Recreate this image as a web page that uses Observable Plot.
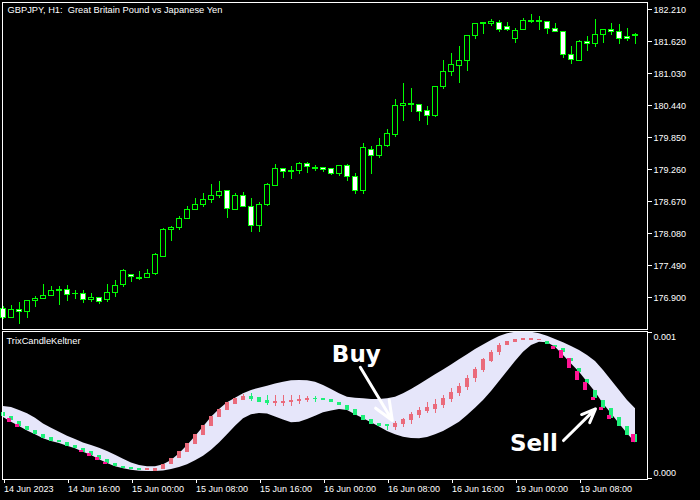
<!DOCTYPE html>
<html><head><meta charset="utf-8">
<script src="https://cdn.jsdelivr.net/npm/d3@7"></script>
<script src="https://cdn.jsdelivr.net/npm/@observablehq/plot@0.6"></script>
<style>
html,body{margin:0;padding:0;background:#000;}
#chart{width:700px;height:500px;overflow:hidden;background:#000;}
#chart svg{display:block;}
</style></head><body><div id="chart"></div>
<script>
const title = "GBPJPY, H1:  Great Britain Pound vs Japanese Yen";
const indicatorName = "TrixCandleKeltner";

// GBPJPY H1 candles (bar index 0..79)
const priceOpen = [176.697,176.531,176.679,176.642,176.837,176.874,176.929,177.022,177.047,176.974,176.974,176.856,176.900,176.856,176.985,177.127,177.324,177.269,177.261,177.330,177.661,178.146,178.178,178.344,178.515,178.620,178.700,178.768,178.860,178.528,178.786,178.583,178.215,178.602,178.958,179.266,179.219,179.234,179.376,179.290,179.302,179.266,179.179,179.321,179.136,178.865,179.634,179.511,179.690,179.898,180.433,180.451,180.458,180.335,180.248,180.783,181.059,181.177,181.262,181.731,181.944,181.952,181.970,181.896,181.668,181.834,181.981,181.981,181.981,181.860,181.804,181.380,181.270,181.620,181.576,181.742,181.841,181.804,181.712,181.731];
const priceHigh = [176.740,176.758,176.813,176.850,176.924,177.145,177.103,177.108,177.121,177.029,177.035,176.979,176.906,177.145,177.213,177.422,177.330,177.379,177.416,177.717,178.183,178.215,178.399,178.583,178.731,178.823,178.989,179.044,178.878,178.823,178.841,178.731,178.657,179.007,179.358,179.266,179.321,179.395,179.395,179.339,179.302,179.284,179.339,179.358,179.186,179.745,179.690,179.837,180.003,180.556,180.851,180.759,180.464,180.422,180.790,181.275,181.404,181.533,181.731,181.952,181.976,182.031,182.013,181.967,181.865,182.044,182.123,182.081,181.989,181.952,181.815,181.533,181.644,181.712,182.026,181.841,181.952,181.933,181.860,181.768];
const priceLow = [176.500,176.518,176.408,176.518,176.727,176.874,176.924,176.758,176.837,176.874,176.800,176.813,176.782,176.819,176.906,177.095,177.182,177.219,177.261,177.311,177.643,177.938,178.141,178.344,178.515,178.565,178.639,178.731,178.362,178.510,178.570,178.104,178.104,178.583,178.958,179.105,179.081,179.179,179.197,179.229,179.216,179.160,179.142,179.050,178.810,178.810,179.179,179.474,179.671,179.861,180.156,180.322,180.156,180.082,180.230,180.746,180.986,180.857,181.078,181.668,181.760,181.908,181.791,181.810,181.589,181.834,181.963,181.834,181.760,181.804,181.318,181.207,181.251,181.447,181.520,181.594,181.742,181.576,181.631,181.565];
const priceClose = [176.531,176.684,176.642,176.845,176.882,176.937,177.029,177.053,176.948,176.966,176.856,176.900,176.819,176.992,177.121,177.403,177.280,177.250,177.348,177.680,178.159,178.191,178.362,178.528,178.620,178.712,178.768,178.854,178.534,178.786,178.570,178.220,178.620,178.971,179.266,179.216,179.238,179.358,179.308,179.280,179.253,179.179,179.321,179.124,178.865,179.653,179.511,179.702,179.911,180.445,180.482,180.473,180.322,180.256,180.790,181.067,181.201,181.275,181.731,181.952,181.963,181.981,181.834,181.841,181.823,182.007,182.007,181.998,181.852,181.804,181.373,181.281,181.620,181.576,181.749,181.841,181.797,181.675,181.668,181.749];
const priceTicks = [176.90,177.49,178.08,178.67,179.26,179.85,180.44,181.03,181.62,182.21];

// Time axis (bar index of each label)
const timeTickBars = [0,8,16,24,32,40,48,56,64,72];
const timeTickLabels = ["14 Jun 2023","14 Jun 16:00","15 Jun 00:00","15 Jun 08:00","15 Jun 16:00","16 Jun 00:00","16 Jun 08:00","16 Jun 16:00","19 Jun 00:00","19 Jun 08:00"];

// Indicator values in units of 1e-6
const bandUpper = [493,486,466,443,413,374,345,317,290,267,244,226,208,185,160,132,107,89,80,80,94,123,169,226,288,352,420,473,518,550,580,603,619,632,648,660,669,671,669,660,637,610,580,557,550,546,541,541,546,557,580,610,642,676,710,744,778,813,847,883,915,945,973,991,1002,1005,1002,991,975,952,929,904,877,842,801,740,671,603,534,477];
const bandLower = [418,386,356,326,299,272,253,240,221,203,180,157,128,103,80,66,57,50,48,48,52,62,75,94,121,153,194,244,299,358,409,436,445,441,422,400,381,386,404,427,450,463,473,466,436,409,381,352,322,299,283,274,272,281,299,322,352,386,432,482,534,596,664,733,801,865,911,934,929,899,842,785,728,660,591,511,443,374,306,244];
const trixOpen = [450,425,388,354,326,301,278,260,247,226,208,185,157,130,103,84,73,68,57,48,62,94,135,180,235,294,358,418,468,509,536,562,552,532,516,516,523,530,536,550,546,539,521,500,473,432,402,377,368,352,370,400,432,459,473,500,541,582,623,683,742,801,861,911,929,943,947,943,941,911,888,824,751,678,603,534,477,420,356,304];
const trixClose = [427,395,356,326,299,272,256,244,221,203,180,157,128,103,80,71,62,57,66,71,94,135,185,240,304,363,427,473,518,546,559,543,518,514,525,530,534,541,550,541,532,518,498,468,432,400,372,358,356,379,402,436,466,488,509,550,589,632,687,749,813,865,911,938,952,957,957,952,920,895,865,801,728,648,546,477,413,358,294,244];
const trixHigh = [450,425,388,354,326,301,278,260,247,226,208,185,157,130,103,84,73,68,66,71,94,135,185,240,304,363,427,473,518,546,578,582,552,568,568,568,568,568,564,559,546,539,521,500,473,432,402,377,372,390,409,450,488,518,541,568,614,648,705,760,824,877,922,938,952,957,957,952,941,911,888,824,751,678,603,534,477,420,356,304];
const trixLow = [427,395,356,326,299,272,256,244,221,203,180,157,128,103,80,71,62,57,57,48,62,94,135,180,235,294,358,418,468,509,532,527,518,500,491,491,495,509,518,523,532,518,498,468,432,400,372,358,331,329,352,372,409,445,443,482,523,564,600,660,728,792,842,911,929,943,947,943,920,895,865,801,728,648,546,477,413,358,294,244];
const overlapBars = [1,2,10,11,12,13,69,70,71,72,73,74,75,76,79];
const overlapTop = [409,368,194,169,142,112,906,874,820,733,655,557,488,432,304];
const overlapBottom = [386,352,176,153,123,98,884,824,751,671,603,534,466,404,244];

// Signal annotations
const signalText = ["Buy","Sell"];
const signalTextBar = [44.1,66.3];
const signalTextValue = [850,238];
const arrowFromBar = [44.6,70.0];
const arrowFromValue = [762,260];
const arrowToBar = [48.6,74.0];
const arrowToValue = [397,477];

const LIME = "#00ff00", SALMON = "#ea6a7b", GREEN = "#1ef07a", MAGENTA = "#ff1493", BAND = "#e6e6fa";

const candles = priceOpen.map((o, i) => ({i, o, h: priceHigh[i], l: priceLow[i], c: priceClose[i], up: priceClose[i] >= o}));
const trix = trixOpen.map((o, i) => ({i, o, c: trixClose[i], h: trixHigh[i], l: trixLow[i], col: trixClose[i] >= o ? SALMON : GREEN}));
const band = bandUpper.map((u, i) => ({i, hi: u, lo: bandLower[i]}));
const overlap = overlapBars.map((b, k) => ({i: b, top: overlapTop[k], bottom: overlapBottom[k]}));
const signals = signalText.map((t, k) => ({t, x: signalTextBar[k], y: signalTextValue[k]}));
const arrows = arrowFromBar.map((b, k) => ({x1: b, y1: arrowFromValue[k], x2: arrowToBar[k], y2: arrowToValue[k]}));
const timeTicks = timeTickBars.map((b, k) => ({b, label: timeTickLabels[k]}));

const baseStyle = {background: "#000", color: "#fff", fontFamily: "'Liberation Sans', Arial, sans-serif", fontSize: "9px"};

const upper = Plot.plot({
  width: 700, height: 330,
  marginLeft: 2, marginRight: 53, marginTop: 2, marginBottom: 1,
  style: baseStyle,
  color: {type: "identity"},
  x: {domain: [0, 79], range: [3, 635], axis: null},
  y: {domain: [176.9, 182.21], range: [297.3, 9.3], label: null},
  marks: [
    Plot.ruleX(candles, {x: "i", y1: "l", y2: "h", stroke: LIME, shapeRendering: "crispEdges"}),
    Plot.rect(candles, {x1: d => d.i - 0.27, x2: d => d.i + 0.27, y1: "o", y2: "c", fill: d => d.up ? "#000" : "#fff", stroke: LIME, shapeRendering: "crispEdges"}),
    Plot.frame({stroke: "#fff", shapeRendering: "crispEdges"}),
    Plot.axisY(priceTicks, {anchor: "right", tickSize: 4, tickPadding: 2, tickFormat: d => d.toFixed(3), fontSize: 9, label: null, shapeRendering: "crispEdges"}),
    Plot.text([title], {frameAnchor: "top-left", dx: 5, dy: 4, lineAnchor: "top", fill: "#fff", fontSize: 9.3})
  ]
});

const lower = Plot.plot({
  width: 700, height: 170,
  marginLeft: 2, marginRight: 53, marginTop: 1, marginBottom: 21,
  style: baseStyle,
  color: {type: "identity"},
  x: {domain: [0, 79], range: [3, 635], label: null},
  y: {domain: [0, 1000], range: [148, 2], label: null},
  marks: [
    Plot.areaY(band, {x: "i", y1: "lo", y2: "hi", fill: BAND}),
    Plot.ruleX(trix, {x: "i", y1: "l", y2: "h", stroke: "col", shapeRendering: "crispEdges"}),
    Plot.rect(trix, {x1: d => d.i - 0.29, x2: d => d.i + 0.29, y1: "o", y2: "c", fill: "col", shapeRendering: "crispEdges"}),
    Plot.rect(overlap, {x1: d => d.i - 0.45, x2: d => d.i + 0.05, y1: "top", y2: "bottom", fill: MAGENTA, shapeRendering: "crispEdges"}),
    Plot.arrow(arrows, {x1: "x1", y1: "y1", x2: "x2", y2: "y2", stroke: "#fff", strokeWidth: 3, headLength: 14, headAngle: 45}),
    Plot.text(signals, {x: "x", y: "y", text: "t", fill: "#fff", fontSize: 23, fontWeight: "bold", fontFamily: "DejaVu Sans"}),
    Plot.text([indicatorName], {frameAnchor: "top-left", dx: 4, dy: 6, lineAnchor: "top", fill: "#fff", fontSize: 9.3}),
    Plot.frame({stroke: "#fff", shapeRendering: "crispEdges"}),
    Plot.axisY([0, 1000], {anchor: "right", tickSize: 4, fill: "none", label: null, shapeRendering: "crispEdges"}),
    Plot.axisY([1000], {anchor: "right", tickSize: 0, tickPadding: 6, dy: 5, tickFormat: d => (d / 1e6).toFixed(3), fontSize: 9, label: null}),
    Plot.axisY([0], {anchor: "right", tickSize: 0, tickPadding: 6, dy: -5, tickFormat: d => (d / 1e6).toFixed(3), fontSize: 9, label: null}),
    Plot.axisX(timeTickBars, {anchor: "bottom", tickSize: 4, tickPadding: 2, textAnchor: "start", dx: 0.5, tickFormat: (d, k) => timeTickLabels[timeTickBars.indexOf(d)], fontSize: 9, label: null, shapeRendering: "crispEdges"})
  ]
});

const host = document.getElementById("chart");
host.appendChild(upper);
host.appendChild(lower);
</script></body></html>
